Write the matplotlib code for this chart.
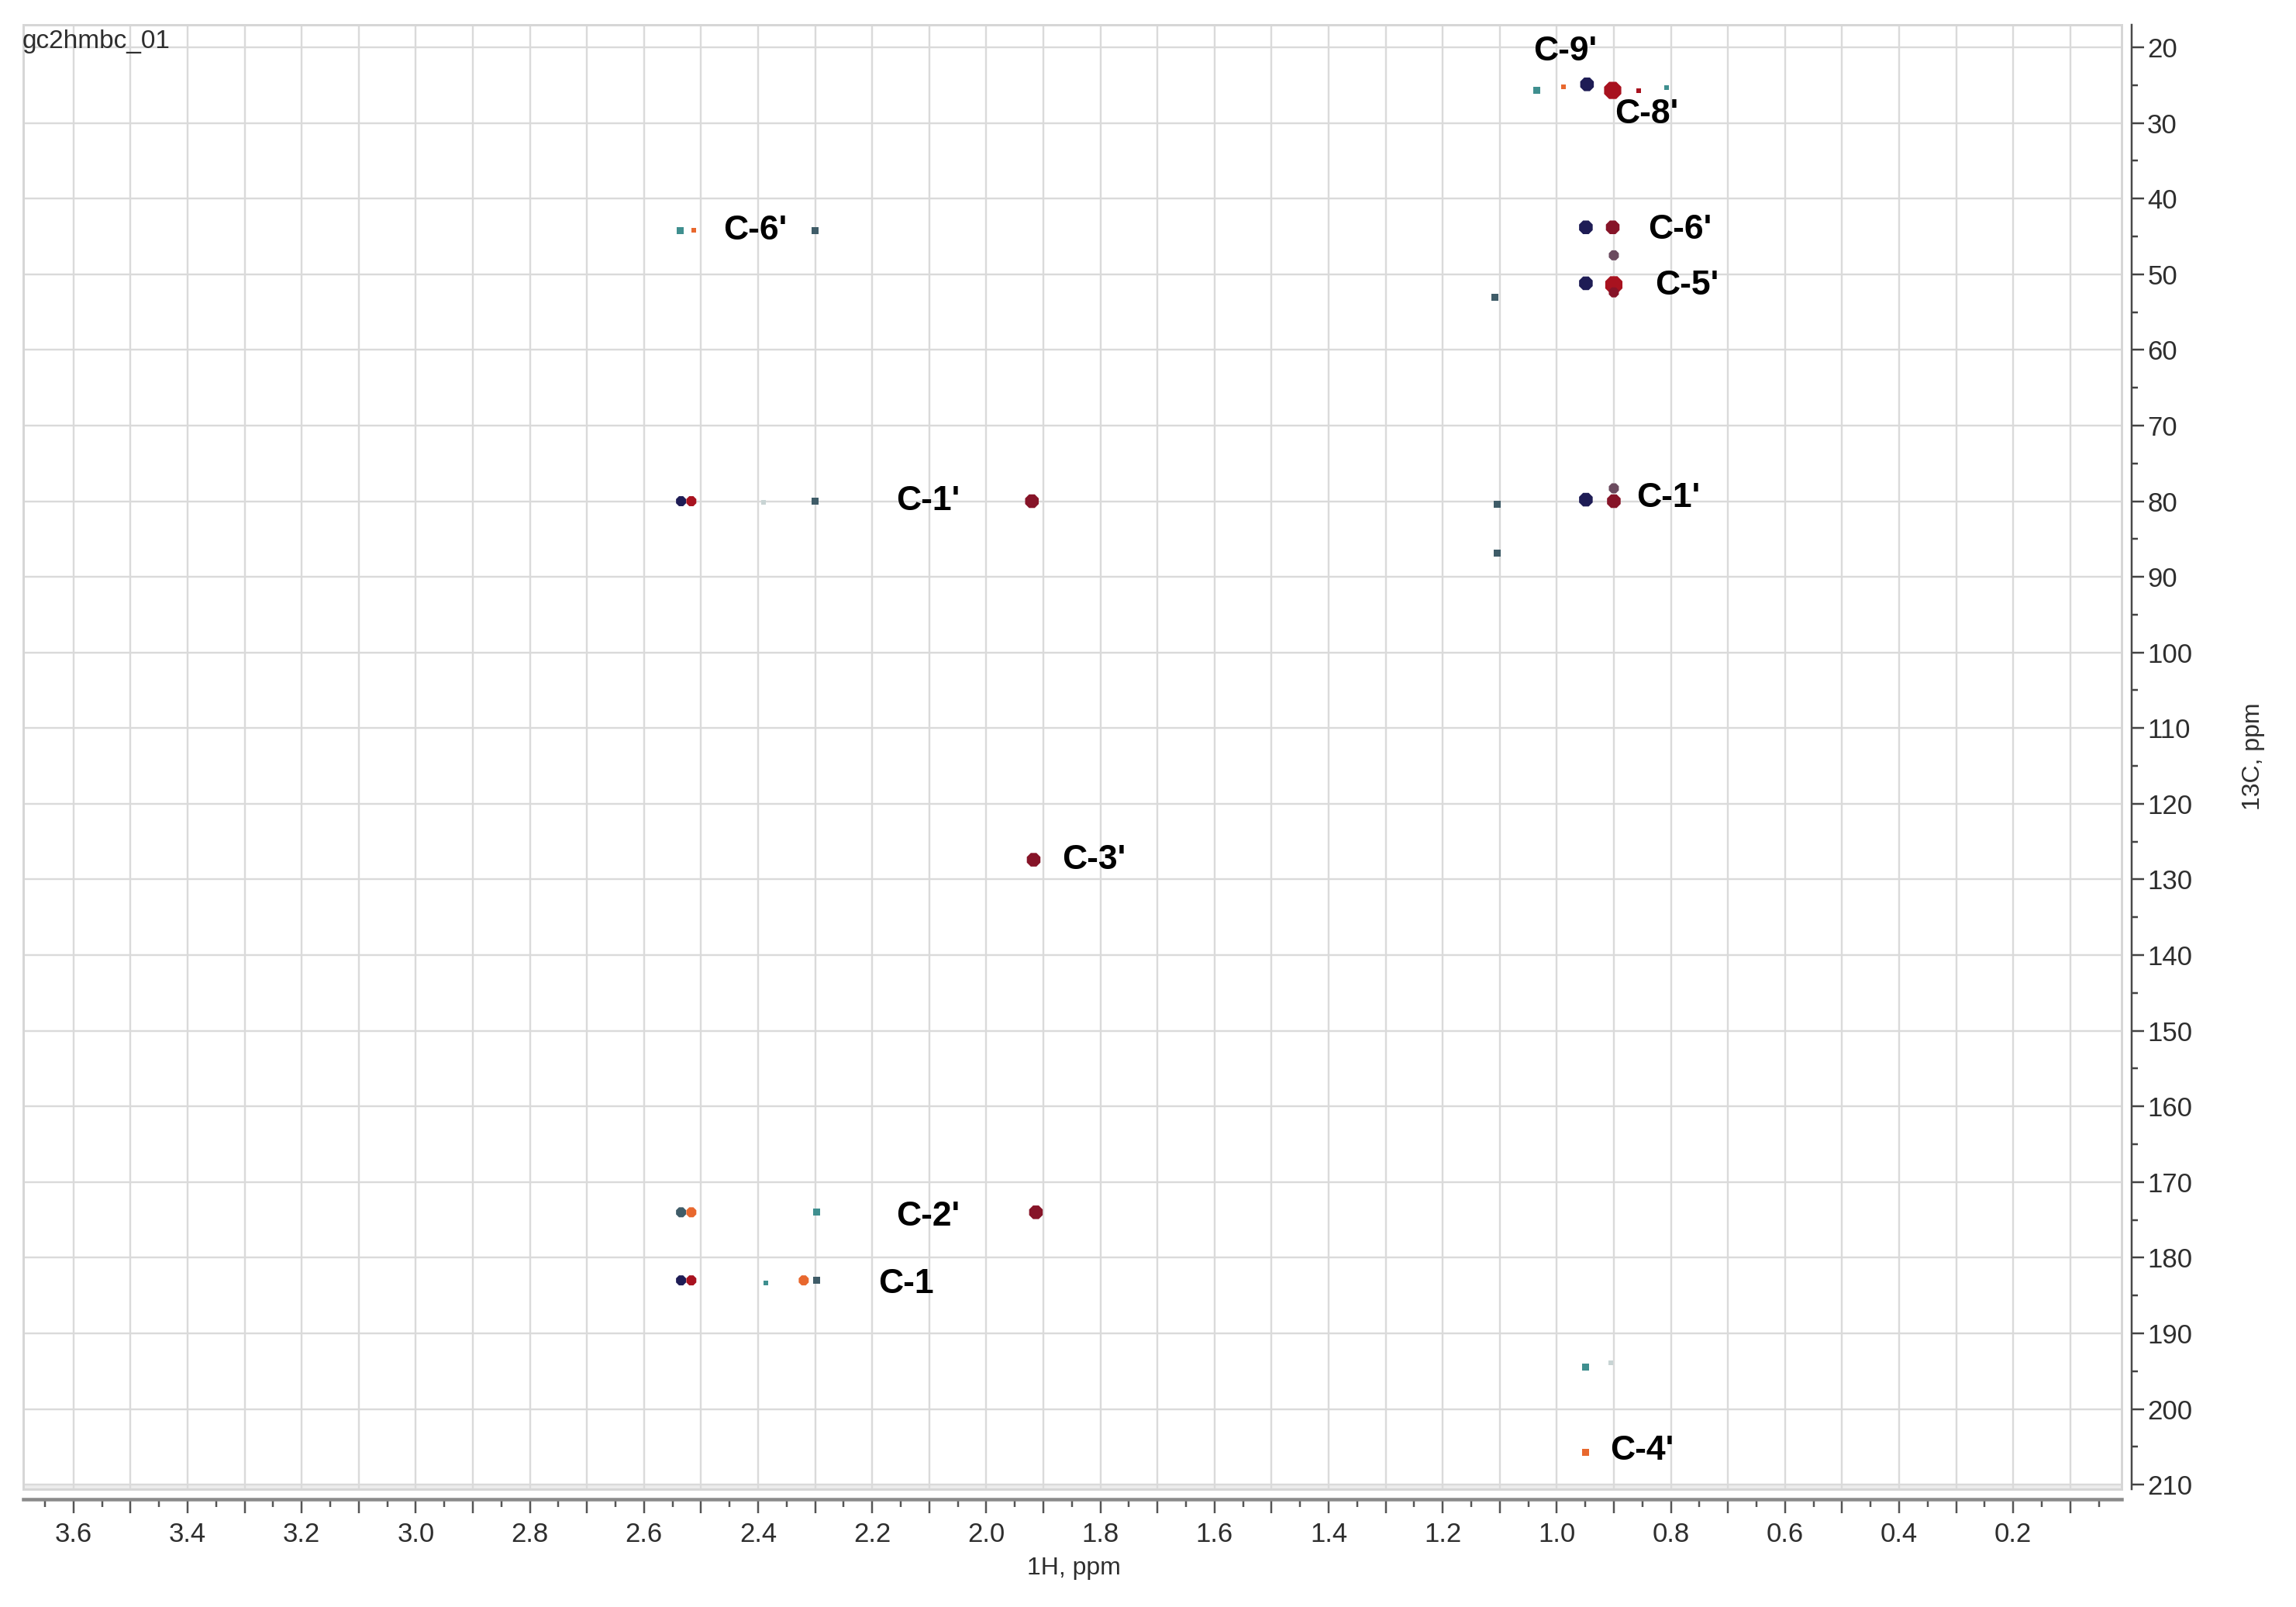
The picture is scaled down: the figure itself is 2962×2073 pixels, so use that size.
import matplotlib
matplotlib.use('Agg')
import matplotlib.pyplot as plt
from matplotlib.ticker import MultipleLocator, FuncFormatter
from matplotlib.patches import Rectangle

plt.rcParams['font.family'] = ['Liberation Sans', 'DejaVu Sans']

title = "gc2hmbc_01"
x_label = "1H, ppm"
y_label = "13C, ppm"

# HMBC cross peaks: 1H shift (ppm), 13C shift (ppm), contour colour class, intensity class
peak_h = [1.035, 0.988, 0.947, 0.902, 0.856, 0.808,
          0.949, 0.902, 0.900,
          0.949, 0.900, 0.900, 1.108,
          0.949, 0.900, 0.900, 1.105, 1.105,
          2.537, 2.513, 2.300,
          2.535, 2.517, 2.390, 2.300, 1.920,
          1.917,
          2.535, 2.517, 2.297, 1.913,
          2.535, 2.517, 2.387, 2.320, 2.297,
          0.950, 0.905,
          0.950]
peak_c = [25.7, 25.2, 24.9, 25.7, 25.7, 25.3,
          43.8, 43.8, 47.5,
          51.2, 51.4, 52.4, 53.1,
          79.8, 80.0, 78.3, 80.4, 86.9,
          44.2, 44.2, 44.2,
          80.0, 80.0, 80.2, 80.0, 80.0,
          127.4,
          174.0, 174.0, 174.0, 174.0,
          183.0, 183.0, 183.3, 183.0, 183.0,
          194.5, 193.9,
          205.7]
peak_kind = ['teal', 'orange', 'navy', 'red', 'red', 'teal',
             'navy', 'darkred', 'mauve',
             'navy', 'red', 'darkred', 'slate',
             'navy', 'darkred', 'mauve', 'slate', 'slate',
             'teal', 'orange', 'slate',
             'navy', 'red', 'faint', 'slate', 'darkred',
             'darkred',
             'slate', 'orange', 'teal', 'darkred',
             'navy', 'red', 'teal', 'orange', 'slate',
             'teal', 'faint',
             'orange']
peak_int = [2, 1, 4, 5, 1, 1,
            4, 4, 3,
            4, 5, 3, 2,
            4, 4, 3, 2, 2,
            2, 1, 2,
            3, 3, 1, 2, 4,
            4,
            3, 3, 2, 4,
            3, 3, 1, 3, 2,
            2, 1,
            2]

# assignment labels: text, 1H position of left edge, 13C position
label_text = ["C-9'", "C-8'", "C-6'", "C-5'", "C-1'",
              "C-6'", "C-1'", "C-3'", "C-2'", "C-1", "C-4'"]
label_h = [1.041, 0.898, 0.840, 0.828, 0.860,
           2.461, 2.158, 1.867, 2.158, 2.189, 0.906]
label_c = [20.6, 28.9, 44.1, 51.5, 79.6,
           44.2, 80.0, 127.4, 174.6, 183.5, 205.5]

x_range = (3.688, 0.01)
y_range = (210.6, 17.03)

# ---- styling ----
DPI = 100
PX = 72.0 / DPI
kind_color = {'navy': '#1e1c55', 'red': '#a8121f', 'darkred': '#861428',
              'teal': '#3f8f8f', 'orange': '#e8682e', 'slate': '#3f5c68',
              'mauve': '#6a4a5e', 'faint': '#c8d4d4'}
int_px = {1: 6, 2: 9, 3: 14, 4: 19, 5: 24}
int_marker = {1: 's', 2: 's', 3: '8', 4: '8', 5: '8'}

fig = plt.figure(figsize=(2962 / DPI, 2073 / DPI), dpi=DPI)
L, R, T, B = 30, 2737, 32, 1921
ax = fig.add_axes([L / 2962, 1 - B / 2073, (R - L) / 2962, (B - T) / 2073])
ax.set_xlim(*x_range)
ax.set_ylim(*y_range)

for s in ['top', 'left']:
    ax.spines[s].set_visible(False)
ax.spines['bottom'].set_position(('outward', 13 * PX))
ax.spines['bottom'].set_color('#8a8a8a')
ax.spines['bottom'].set_linewidth(4.5 * PX)
ax.spines['right'].set_position(('outward', 13 * PX))
ax.spines['right'].set_color('#4a4a4a')
ax.spines['right'].set_linewidth(2.5 * PX)

ax.add_patch(Rectangle((0, 0), 1, 1, transform=ax.transAxes, fill=False,
                       edgecolor='#d6d6d6', lw=3 * PX, zorder=1, clip_on=False))
ax.axhspan(210, y_range[0], color='#ececec', zorder=0.5, lw=0)

ax.xaxis.set_major_locator(MultipleLocator(0.1))
ax.xaxis.set_minor_locator(MultipleLocator(0.05))
ax.xaxis.set_major_formatter(FuncFormatter(
    lambda v, p: f"{v:.1f}" if round(v * 10) % 2 == 0 and v > 0.05 else ""))
ax.yaxis.set_major_locator(MultipleLocator(10))
ax.yaxis.set_minor_locator(MultipleLocator(5))
ax.yaxis.set_major_formatter(FuncFormatter(lambda v, p: f"{v:.0f}"))

ax.yaxis.tick_right()
ax.tick_params(axis='x', which='major', direction='out', length=18 * PX, width=2.5 * PX,
               color='#555555', labelsize=25, labelcolor='#2e2e2e', pad=8)
ax.tick_params(axis='x', which='minor', direction='out', length=10 * PX, width=2.5 * PX,
               color='#555555')
ax.tick_params(axis='y', which='major', direction='out', length=16 * PX, width=2.5 * PX,
               color='#444444', labelsize=25, labelcolor='#2e2e2e', pad=3,
               left=False, right=True, labelleft=False, labelright=True)
ax.tick_params(axis='y', which='minor', direction='out', length=8 * PX, width=2.5 * PX,
               color='#444444', left=False, right=True)

ax.grid(True, which='major', color='#dadada', lw=2.4 * PX, zorder=0)
ax.set_axisbelow(True)

for h, c, k, i in zip(peak_h, peak_c, peak_kind, peak_int):
    ax.scatter([h], [c], s=(int_px[i] * PX) ** 2, marker=int_marker[i],
               color=kind_color[k], edgecolors='none', zorder=3)

for t, h, c in zip(label_text, label_h, label_c):
    ax.text(h, c, t, ha='left', va='center', fontsize=32, fontweight='bold',
            color='#000000', zorder=4)

fig.text(29 / 2962, 1 - 38 / 2073, title, ha='left', va='top', fontsize=24, color='#2e2e2e')
fig.text(1385 / 2962, 1 - 2023 / 2073, x_label, ha='center', va='center',
         fontsize=23, color='#2e2e2e')
fig.text(2907 / 2962, 1 - 976 / 2073, y_label, ha='center', va='center',
         rotation=90, fontsize=23, color='#2e2e2e')

fig.savefig('out.png', dpi=DPI, facecolor='white')
